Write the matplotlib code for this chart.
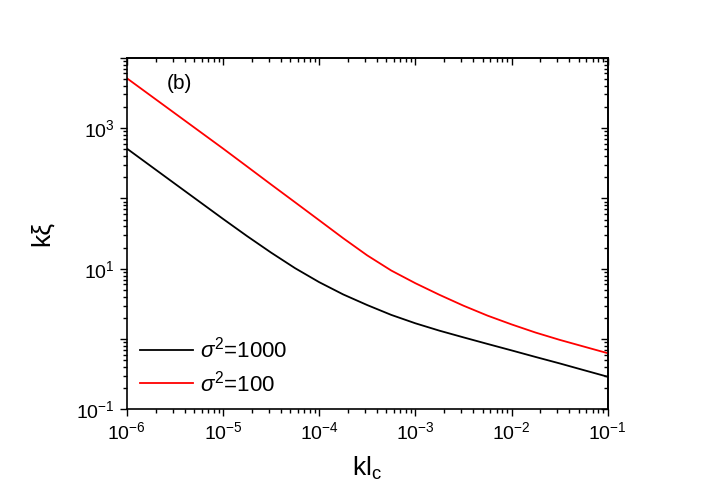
import numpy as np
import matplotlib
matplotlib.use('Agg')
import matplotlib.pyplot as plt
from matplotlib.ticker import LogLocator, FuncFormatter, NullFormatter

plt.rcParams['font.family'] = ['Liberation Sans', 'DejaVu Sans']
plt.rcParams['mathtext.fontset'] = 'custom'
plt.rcParams['mathtext.rm'] = 'Liberation Sans'
plt.rcParams['mathtext.it'] = 'Liberation Sans:italic'

# kl_c values (as powers of ten) and k*xi
kl_exp = [-6.0, -5.5, -5.0, -4.75, -4.5, -4.25, -4.0, -3.75, -3.5, -3.25,
          -3.0, -2.75, -2.5, -2.25, -2.0, -1.75, -1.5, -1.25, -1.0]
kxi_1000 = [513, 162, 51.3, 29.2, 17.0, 10.2, 6.46, 4.32, 3.05, 2.21,
            1.68, 1.32, 1.06, 0.855, 0.692, 0.558, 0.452, 0.363, 0.292]
kxi_100 = [5129, 1622, 513, 285, 158, 88.1, 49.0, 27.2, 15.5, 9.44,
           6.24, 4.27, 2.99, 2.16, 1.62, 1.24, 0.977, 0.785, 0.631]
labels = [r'$\sigma^2$=1000', r'$\sigma^2$=100']

kl = [10 ** e for e in kl_exp]

fig = plt.figure(figsize=(7.06, 4.92), dpi=100)
ax = fig.add_axes([0.1795, 0.1677, 0.6813, 0.7150])

ax.plot(kl, kxi_1000, color='black', lw=1.3, label=labels[0])
ax.plot(kl, kxi_100, color='red', lw=1.3, label=labels[1])

ax.set_xscale('log')
ax.set_yscale('log')
ax.set_xlim(1e-6, 1e-1)
ax.set_ylim(1e-1, 1e4)


def set_log_ticks(axis):
    axis.set_major_locator(LogLocator(base=10, numticks=20))
    axis.set_minor_locator(LogLocator(base=10, subs=np.arange(2, 10), numticks=20))
    axis.set_minor_formatter(NullFormatter())


set_log_ticks(ax.xaxis)
set_log_ticks(ax.yaxis)
ax.xaxis.set_major_formatter(FuncFormatter(lambda v, p: r'$10^{%d}$' % round(np.log10(v))))
ax.yaxis.set_major_formatter(FuncFormatter(
    lambda v, p: r'$10^{%d}$' % round(np.log10(v)) if round(np.log10(v)) % 2 else ''))

ax.tick_params(which='both', direction='out', labelsize=14, width=1.0)
ax.tick_params(which='major', length=5)
ax.tick_params(which='minor', length=3)

# top and right axes: ticks pointing inwards, no labels
top = ax.secondary_xaxis('top')
right = ax.secondary_yaxis('right')
for sec, axis in ((top, top.xaxis), (right, right.yaxis)):
    set_log_ticks(axis)
    axis.set_major_formatter(NullFormatter())
    sec.tick_params(which='both', direction='in', width=1.0)
    sec.tick_params(which='major', length=5)
    sec.tick_params(which='minor', length=3)
    for s in sec.spines.values():
        s.set_linewidth(1.2)

for s in ax.spines.values():
    s.set_linewidth(1.2)

ax.set_xlabel(r'kl$_\mathrm{c}$', fontsize=19, labelpad=8)
ax.set_ylabel('kξ', fontsize=19, labelpad=16)

ax.text(0.084, 0.928, '(b)', transform=ax.transAxes, fontsize=15, va='center')

ax.legend(loc='lower left', frameon=False, fontsize=16, handlelength=2.4,
          handletextpad=0.3, labelspacing=0.35, borderaxespad=0.2)

fig.savefig('out.png', dpi=100)
